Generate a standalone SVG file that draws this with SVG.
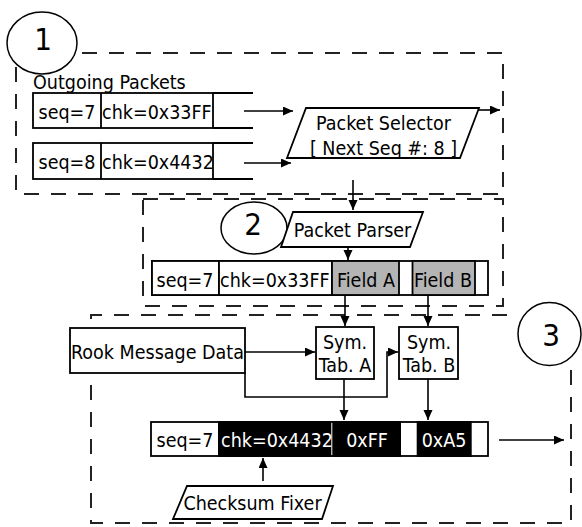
<svg xmlns="http://www.w3.org/2000/svg" width="582" height="527" viewBox="0 0 582 527">
  <defs>
    <marker id="arrow" markerUnits="userSpaceOnUse" markerWidth="11" markerHeight="10" refX="10" refY="4.5" orient="auto">
      <path d="M0,0 L10,4.5 L0,9 z" fill="#000"/>
    </marker>
    <style>
      text { font-family: "DejaVu Sans Condensed", "DejaVu Sans", sans-serif; font-stretch: condensed; font-size: 19.5px; fill: #000; }
      .mid { text-anchor: middle; }
      .inv { fill: #fff; }
      .num { font-size: 31px; font-stretch: normal; }
      .box { fill: #fff; stroke: #000; stroke-width: 1.8; }
      .gray { fill: #b4b4b4; stroke: #000; stroke-width: 1.8; }
      .blk { fill: #000; stroke: none; }
      .circ { fill: #fff; stroke: #000; stroke-width: 1.5; }
      .zone { fill: none; stroke: #222; stroke-width: 2; stroke-dasharray: 15 12; }
      .wire { fill: none; stroke: #000; stroke-width: 1.6; }
      .tail { fill: none; stroke: #000; stroke-width: 1.8; }
    </style>
  </defs>

  <!-- stage outlines -->
  <g id="zones">
    <path class="zone" d="M82,53 H503 V194 H16 V62"/>
    <path class="zone" d="M143,199 H503 V306 H143 Z"/>
    <path class="zone" d="M571,370 V523 H91 V315 H512"/>
  </g>

  <!-- stage markers -->
  <g id="stage-1">
    <ellipse class="circ" cx="42" cy="43" rx="35" ry="31"/>
    <text class="num mid" x="43" y="50">1</text>
  </g>
  <g id="stage-2">
    <ellipse class="circ" cx="254" cy="228" rx="33" ry="26"/>
    <text class="num mid" x="253" y="235">2</text>
  </g>
  <g id="stage-3">
    <circle class="circ" cx="549.5" cy="334" r="31.5"/>
    <text class="num mid" x="551" y="346">3</text>
  </g>

  <!-- outgoing packet queue -->
  <g id="outgoing-packets">
    <text x="33" y="89">Outgoing Packets</text>
  </g>
  <g id="packet-seq7">
    <rect class="box" x="33" y="93" width="180" height="35"/>
    <line class="tail" x1="101" y1="93" x2="101" y2="128"/>
    <path class="tail" d="M213,93 H253 M213,128 H253"/>
    <text class="mid" x="67" y="118.5">seq=7</text>
    <text x="102" y="118.5">chk=0x33FF</text>
  </g>
  <g id="packet-seq8">
    <rect class="box" x="33" y="143" width="180" height="36"/>
    <line class="tail" x1="101" y1="143" x2="101" y2="179"/>
    <path class="tail" d="M213,143 H253 M213,179 H253"/>
    <text class="mid" x="67" y="168.5">seq=8</text>
    <text x="102" y="168.5">chk=0x4432</text>
  </g>

  <g id="packet-selector">
    <polygon class="box" points="306,108 479,108 460,158 287,158"/>
    <text class="mid" x="383.5" y="130">Packet Selector</text>
    <text class="mid" x="383.5" y="155">[ Next Seq #: 8 ]</text>
  </g>

  <g id="packet-parser">
    <polygon class="box" points="293,212 423,212 410,247 281,247"/>
    <text class="mid" x="352.5" y="237">Packet Parser</text>
  </g>

  <!-- parsed packet -->
  <g id="parsed-packet">
    <rect class="box" x="152" y="261" width="336" height="34"/>
    <rect class="box" x="152" y="261" width="67" height="34"/>
    <rect class="box" x="219" y="261" width="113" height="34"/>
    <rect class="gray" x="332" y="261" width="67" height="34"/>
    <rect class="gray" x="412.5" y="261" width="62.5" height="34"/>
    <text class="mid" x="185" y="287">seq=7</text>
    <text x="220" y="287">chk=0x33FF</text>
    <text class="mid" x="366" y="287">Field A</text>
    <text class="mid" x="443" y="287">Field B</text>
  </g>

  <g id="rook-message-data">
    <rect class="box" x="70" y="328" width="175" height="45"/>
    <text class="mid" x="157.5" y="359">Rook Message Data</text>
  </g>

  <g id="sym-tab-a">
    <rect class="box" x="316" y="327" width="58" height="52"/>
    <text class="mid" x="345" y="349">Sym.</text>
    <text class="mid" x="345" y="372">Tab. A</text>
  </g>
  <g id="sym-tab-b">
    <rect class="box" x="399" y="327" width="59" height="52"/>
    <text class="mid" x="429" y="349">Sym.</text>
    <text class="mid" x="429" y="372">Tab. B</text>
  </g>

  <!-- rewritten packet -->
  <g id="rewritten-packet">
    <rect class="box" x="151" y="422" width="337" height="34"/>
    <rect class="blk" x="218" y="421" width="113.3" height="36"/>
    <rect class="blk" x="332.3" y="421" width="68.7" height="36"/>
    <rect class="blk" x="416.7" y="421" width="55" height="36"/>
    <text class="mid" x="185" y="447">seq=7</text>
    <text class="inv" x="221" y="447">chk=0x4432</text>
    <text class="inv mid" x="367" y="447">0xFF</text>
    <text class="inv mid" x="444" y="447">0xA5</text>
  </g>

  <g id="checksum-fixer">
    <polygon class="box" points="187,486 333,486 322,519 173,519"/>
    <text class="mid" x="252.5" y="510">Checksum Fixer</text>
  </g>

  <!-- connectors -->
  <g id="connectors">
    <line class="wire" x1="244" y1="111" x2="293" y2="111" marker-end="url(#arrow)"/>
    <line class="wire" x1="244" y1="163" x2="291" y2="163" marker-end="url(#arrow)"/>
    <line class="wire" x1="479" y1="110" x2="500" y2="110" marker-end="url(#arrow)"/>
    <line class="wire" x1="353" y1="180" x2="353" y2="210" marker-end="url(#arrow)"/>
    <line class="wire" x1="348" y1="247" x2="348" y2="260" marker-end="url(#arrow)"/>
    <line class="wire" x1="345" y1="295" x2="345" y2="326" marker-end="url(#arrow)"/>
    <line class="wire" x1="428" y1="295" x2="428" y2="326" marker-end="url(#arrow)"/>
    <line class="wire" x1="245" y1="352" x2="315" y2="352" marker-end="url(#arrow)"/>
    <path class="wire" d="M245,373 V397 H387 V352 H398" marker-end="url(#arrow)"/>
    <line class="wire" x1="344" y1="379" x2="344" y2="420" marker-end="url(#arrow)"/>
    <line class="wire" x1="428" y1="379" x2="428" y2="420" marker-end="url(#arrow)"/>
    <line class="wire" x1="499" y1="440" x2="564" y2="440" marker-end="url(#arrow)"/>
    <line class="wire" x1="263" y1="481" x2="263" y2="458" marker-end="url(#arrow)"/>
  </g>
</svg>
